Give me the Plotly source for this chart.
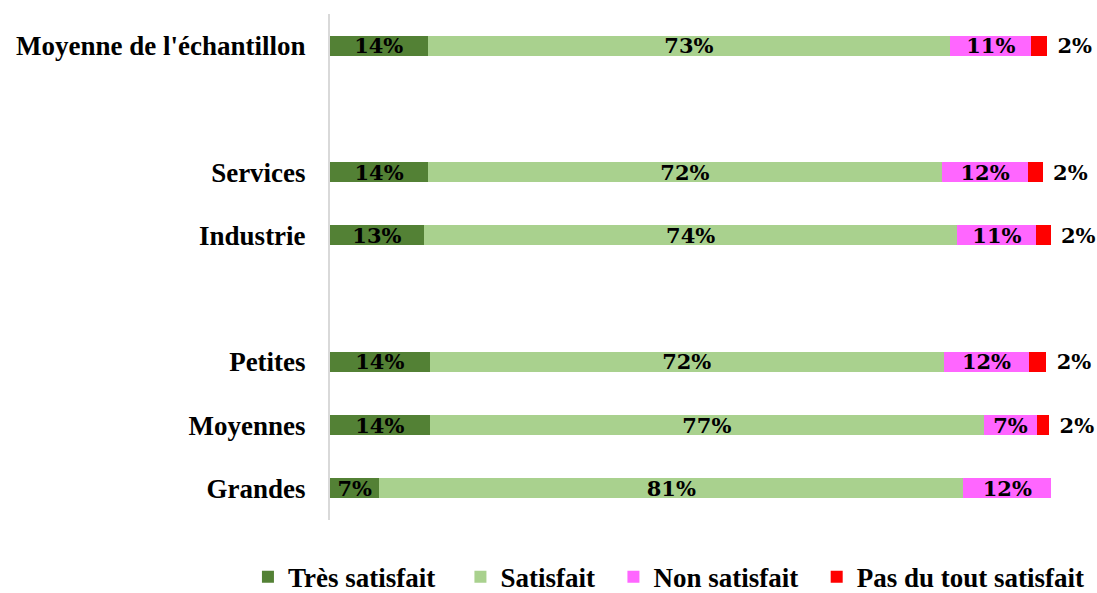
import plotly.graph_objects as go

# Rows from top to bottom; blank labels are spacer rows between groups
rows = ["Moyenne de l'échantillon", " ", "Services", "Industrie", "  ",
        "Petites", "Moyennes", "Grandes"]
groups = ["Moyenne de l'échantillon", "Services", "Industrie",
          "Petites", "Moyennes", "Grandes"]

# Share of respondents (%) per satisfaction level
tres_satisfait = [13.6, 13.7, 13.1, 13.9, 13.9, 6.9]
satisfait = [72.9, 71.6, 74.4, 71.7, 77.3, 81.4]
non_satisfait = [11.3, 12.1, 11.0, 11.9, 7.4, 12.3]
pas_du_tout = [2.2, 2.0, 2.0, 2.4, 1.7, 0.0]

series = [
    ("Très satisfait", tres_satisfait, "#538135"),
    ("Satisfait", satisfait, "#A9D18E"),
    ("Non satisfait", non_satisfait, "#FF66FF"),
    ("Pas du tout satisfait", pas_du_tout, "#FF0000"),
]
# Extra spacing after each legend entry
legend_pad = [3, 2, 2, 0]

label_font = dict(family="DejaVu Serif", size=21, color="black", weight="bold")
NBSP = "\u00a0"

fig = go.Figure()
for i, (name, vals, color) in enumerate(series):
    last = i == len(series) - 1
    prefix = NBSP if last else ""
    texts = [f"{prefix}{v:.0f}%" if v > 0 else "" for v in vals]
    fig.add_trace(go.Bar(
        name=name + NBSP * legend_pad[i],
        y=groups,
        x=vals,
        orientation="h",
        marker=dict(color=color, line=dict(width=0)),
        text=texts,
        textposition="outside" if last else "inside",
        insidetextanchor="middle",
        textangle=0,
        constraintext="none",
        textfont=label_font,
        cliponaxis=False,
        hoverinfo="skip",
    ))

fig.update_layout(
    barmode="stack",
    bargap=0.684,
    width=1097,
    height=593,
    margin=dict(l=330, r=37, t=14, b=73, autoexpand=False),
    paper_bgcolor="white",
    plot_bgcolor="white",
    xaxis=dict(range=[0, 101.8], visible=False, fixedrange=True),
    yaxis=dict(
        type="category",
        categoryorder="array",
        categoryarray=rows,
        range=[7.5, -0.5],
        showline=True,
        linecolor="#d9d9d9",
        linewidth=2,
        showgrid=False,
        zeroline=False,
        ticks="",
        ticklabelstandoff=17,
        tickfont=dict(family="Liberation Serif", size=27, color="black",
                      weight="bold"),
    ),
    legend=dict(
        orientation="h",
        x=-0.1124,
        xanchor="left",
        y=-0.113,
        yanchor="middle",
        font=dict(family="Liberation Serif", size=27, color="black",
                  weight="bold"),
        traceorder="normal",
        bgcolor="rgba(0,0,0,0)",
    ),
    showlegend=True,
)

fig.write_html("out.html")
